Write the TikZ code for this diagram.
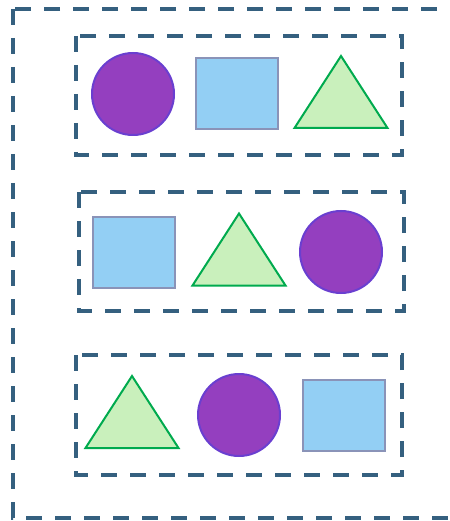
\documentclass[tikz,border=0pt]{standalone}
\usetikzlibrary{shapes.geometric}
\definecolor{boxblue}{HTML}{35607F}
\definecolor{ballfill}{HTML}{943FBF}
\definecolor{ballline}{HTML}{6A3FD0}
\definecolor{sqfill}{HTML}{93CFF4}
\definecolor{sqline}{HTML}{8A93B8}
\definecolor{trifill}{HTML}{C9F0BC}
\definecolor{triline}{HTML}{00AA4E}
\tikzset{
  groupbox/.style={draw=boxblue, line width=3.5pt, dash pattern=on 16pt off 13pt},
  ballshape/.style={circle, draw=ballline, fill=ballfill, line width=2pt, minimum size=82pt, inner sep=0pt},
  squareshape/.style={rectangle, draw=sqline, fill=sqfill, line width=2pt, minimum width=82pt, minimum height=71pt, inner sep=0pt},
  triangleshape/.style={draw=triline, fill=trifill, line width=2pt, line join=miter}
}
% triangle with its centre at (#2,#3), named #1
\newcommand{\tri}[3]{%
  \coordinate (#1) at (#2,#3);
  \draw[triangleshape] ({#2-46.5},{#3+36}) -- ({#2},{#3-36}) -- ({#2+46.5},{#3+36}) -- cycle;}
\begin{document}
\begin{tikzpicture}[x=1pt,y=-1pt]
  \useasboundingbox (0,0) rectangle (449,521);
  \clip (0,0) rectangle (449,521);
  % outer group, runs off the right edge
  \draw[groupbox] (13,9) rectangle (470,518);
  % row 1
  \draw[groupbox] (76,36) rectangle (402,155);
  \node[ballshape] (ball1) at (133,94) {};
  \node[squareshape] (square1) at (236.5,94) {};
  \tri{tri1}{341}{92}
  % row 2
  \draw[groupbox] (79,192) rectangle (404,311);
  \node[squareshape] (square2) at (133.5,252) {};
  \tri{tri2}{239}{249.5}
  \node[ballshape] (ball2) at (341,252) {};
  % row 3
  \draw[groupbox] (76,355) rectangle (402,475);
  \tri{tri3}{132}{412}
  \node[ballshape] (ball3) at (239,415) {};
  \node[squareshape] (square3) at (343.5,415) {};
\end{tikzpicture}
\end{document}
